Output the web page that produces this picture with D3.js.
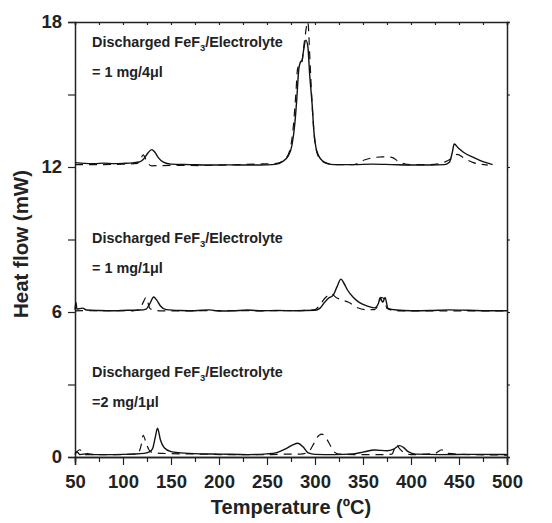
<!DOCTYPE html>
<html>
<head>
<meta charset="utf-8">
<script src="https://cdn.jsdelivr.net/npm/d3@7"></script>
<style>
  body { margin: 0; background: #fff; }
  svg { font-family: "Liberation Sans", Arial, sans-serif; font-weight: bold; }
</style>
</head>
<body>
<svg width="552" height="523"></svg>
<script>
// temperature (C) / heat flow (mW)
var topSolid = [[50,12.18],[60,12.15],[70,12.14],[80,12.16],[90,12.14],[100,12.15],[110,12.17],[118,12.22],[122,12.35],[126,12.58],[130,12.72],[133,12.62],[137,12.38],[142,12.2],[150,12.12],[170,12.1],[190,12.08],[210,12.09],[230,12.08],[250,12.09],[260,12.12],[266,12.22],[272,12.45],[276,12.9],[279,13.8],[281,14.8],[283,16.0],[285,16.35],[286.5,16.4],[288,16.8],[290.5,17.25],[292.5,17.0],[294.5,15.8],[297,14.6],[299,13.4],[301,12.8],[304,12.45],[308,12.25],[313,12.15],[320,12.1],[340,12.1],[360,12.12],[380,12.1],[400,12.08],[420,12.08],[435,12.1],[440,12.2],[443,12.6],[445,12.95],[449,12.8],[455,12.6],[465,12.4],[475,12.22],[485,12.1]];
var topDashed = [[50,12.1],[70,12.1],[100,12.12],[115,12.15],[118,12.3],[121,12.5],[125,12.2],[130,12.05],[140,12.06],[160,12.07],[180,12.06],[200,12.08],[220,12.1],[240,12.12],[260,12.15],[268,12.3],[273,12.6],[277,13.5],[280,15.0],[282,16.1],[286,16.3],[289,17.2],[292.5,18.0],[295,16.2],[297,14.6],[299,13.4],[302,12.6],[306,12.3],[312,12.15],[320,12.1],[340,12.1],[352,12.3],[360,12.38],[370,12.42],[380,12.4],[388,12.2],[400,12.1],[420,12.1],[435,12.2],[442,12.35],[448,12.52],[456,12.35],[465,12.18],[480,12.08]];
var midSolid = [[50,6.1],[51,6.4],[52,6.12],[58,6.16],[62,6.08],[75,6.06],[90,6.05],[105,6.07],[118,6.08],[124,6.12],[128,6.35],[132,6.62],[135,6.5],[139,6.25],[145,6.1],[160,6.06],[175,6.05],[190,6.09],[200,6.04],[215,6.05],[230,6.08],[245,6.05],[260,6.06],[280,6.05],[300,6.07],[305,6.15],[310,6.4],[314,6.57],[319,6.7],[323,7.05],[327,7.36],[330,7.2],[334,6.9],[340,6.6],[346,6.4],[354,6.25],[362,6.17],[366,6.35],[368,6.6],[370.5,6.4],[373,6.6],[376,6.15],[385,6.08],[400,6.05],[420,6.06],[440,6.09],[460,6.07],[480,6.05],[500,6.05]];
var midDashed = [[50,6.05],[80,6.06],[110,6.05],[117,6.1],[121,6.4],[124,6.6],[128,6.15],[132,6.08],[140,6.05],[170,6.05],[200,6.06],[240,6.05],[280,6.06],[300,6.1],[306,6.35],[311,6.6],[317,6.75],[322,6.6],[328,6.5],[335,6.4],[343,6.2],[352,6.1],[362,6.1],[366,6.3],[369,6.6],[372,6.55],[375,6.15],[385,6.05],[420,6.05],[460,6.05],[500,6.05]];
var lowSolid = [[50,0.1],[52,0.22],[55,0.1],[63,0.14],[70,0.1],[90,0.1],[110,0.12],[122,0.15],[128,0.22],[131,0.36],[133.5,0.8],[136,1.19],[139,0.7],[143,0.38],[150,0.22],[160,0.17],[180,0.13],[200,0.12],[230,0.1],[250,0.13],[260,0.18],[270,0.35],[277,0.5],[282,0.57],[288,0.4],[293,0.17],[300,0.11],[320,0.1],[340,0.13],[350,0.2],[362,0.29],[375,0.26],[382,0.33],[388,0.47],[392,0.4],[397,0.22],[405,0.12],[430,0.1],[460,0.11],[500,0.1]];
var lowDashed = [[50,0.12],[55,0.3],[60,0.1],[90,0.1],[115,0.12],[119,0.5],[121,0.9],[124,0.6],[127,0.3],[131,0.18],[140,0.15],[150,0.14],[180,0.12],[210,0.1],[250,0.1],[275,0.12],[285,0.12],[293,0.2],[298,0.5],[302,0.8],[307,0.95],[311,0.82],[315,0.55],[319,0.25],[325,0.12],[345,0.1],[370,0.1],[380,0.12],[385,0.5],[388,0.35],[394,0.15],[400,0.1],[425,0.15],[432,0.3],[438,0.15],[460,0.1],[500,0.08]];

var xTicks = [50,100,150,200,250,300,350,400,450,500];
var yTicks = [0,6,12,18];
var ratios = ["= 1 mg/4", "= 1 mg/1", "=2 mg/1"];
var labelLevels = [16.96, 8.85, 3.31];

var svg = d3.select("svg");
var mLeft = 75, mRight = 507, mTop = 22, mBottom = 457;

var x = d3.scaleLinear().domain([50, 500]).range([mLeft, mRight]);
var y = d3.scaleLinear().domain([0, 18]).range([mBottom, mTop]);

var minorX = d3.range(75, 500, 50);
var minorY = [3, 9, 15];

// bottom axis: long ticks at labels, shorter ones between
svg.append("g")
  .attr("transform", "translate(0," + mBottom + ")")
  .call(d3.axisBottom(x).tickValues(xTicks).tickSize(8).tickPadding(10).tickFormat(d3.format("d")))
  .call(g => g.selectAll("text").attr("font-size", 18.5).attr("font-weight", "bold").attr("fill", "#222"));
svg.append("g")
  .attr("transform", "translate(0," + mBottom + ")")
  .call(d3.axisBottom(x).tickValues(minorX).tickSize(5).tickFormat(""));

svg.append("g")
  .attr("transform", "translate(0," + mTop + ")")
  .call(d3.axisTop(x).tickValues(xTicks.concat(minorX)).tickSize(-3).tickFormat(""));

svg.append("g")
  .attr("transform", "translate(" + mLeft + ",0)")
  .call(d3.axisLeft(y).tickValues(yTicks.concat(minorY)).tickSize(7).tickPadding(6)
    .tickFormat(d => yTicks.indexOf(d) >= 0 ? d : ""))
  .call(g => g.selectAll("text").attr("font-size", 18.5).attr("font-weight", "bold").attr("fill", "#222"));

svg.append("g")
  .attr("transform", "translate(" + mRight + ",0)")
  .call(d3.axisRight(y).tickValues(yTicks.concat(minorY)).tickSize(3).tickFormat(""));

svg.selectAll(".domain").attr("stroke", "#222").attr("stroke-width", 1.5);
svg.selectAll(".tick line").attr("stroke", "#222").attr("stroke-width", 1.2);

var line = d3.line()
  .x(d => x(d[0]))
  .y(d => y(d[1]))
  .curve(d3.curveMonotoneX);

[topSolid, midSolid, lowSolid].forEach(function(s) {
  svg.append("path").datum(s).attr("d", line)
    .attr("fill", "none").attr("stroke", "#111").attr("stroke-width", 1.4);
});
[topDashed, midDashed, lowDashed].forEach(function(s) {
  svg.append("path").datum(s).attr("d", line)
    .attr("fill", "none").attr("stroke", "#111").attr("stroke-width", 1.2)
    .attr("stroke-dasharray", "8,6");
});

// panel labels
labelLevels.forEach(function(v, i) {
  var t = svg.append("text").attr("x", 92).attr("y", y(v)).attr("font-size", 14.4).attr("fill", "#222");
  t.append("tspan").text("Discharged FeF");
  t.append("tspan").text("3").attr("font-size", 9.5).attr("dy", 4);
  t.append("tspan").text("/Electrolyte").attr("dy", -4);
  var t2 = svg.append("text").attr("x", 92).attr("y", y(v) + 30).attr("font-size", 14.4).attr("fill", "#222");
  t2.append("tspan").text(ratios[i]);
  t2.append("tspan").text("\u03bcl");
});

svg.append("text")
  .attr("x", 291).attr("y", 514)
  .attr("text-anchor", "middle").attr("font-size", 20).attr("fill", "#222")
  .text("Temperature (\u00baC)");

svg.append("text")
  .attr("transform", "translate(28,244) rotate(-90)")
  .attr("text-anchor", "middle").attr("font-size", 20.5).attr("fill", "#222")
  .text("Heat flow (mW)");
</script>
</body>
</html>
